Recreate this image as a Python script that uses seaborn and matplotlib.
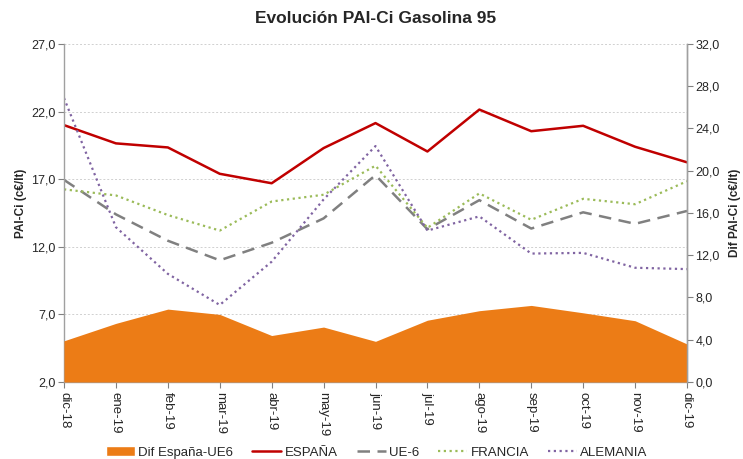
import pandas as pd
import matplotlib
matplotlib.use("Agg")
import matplotlib.pyplot as plt
import matplotlib.ticker as mticker
from matplotlib.patches import Patch
import seaborn as sns

# Data
meses = ["dic-18", "ene-19", "feb-19", "mar-19", "abr-19", "may-19", "jun-19",
         "jul-19", "ago-19", "sep-19", "oct-19", "nov-19", "dic-19"]
espana = [21.0, 19.65, 19.35, 17.4, 16.7, 19.3, 21.15, 19.05, 22.15, 20.55, 20.95, 19.4, 18.25]
ue6 = [16.95, 14.4, 12.45, 11.0, 12.3, 14.1, 17.3, 13.3, 15.45, 13.35, 14.55, 13.7, 14.65]
francia = [16.25, 15.8, 14.35, 13.2, 15.35, 15.85, 18.0, 13.4, 15.95, 14.0, 15.55, 15.15, 16.85]
alemania = [23.0, 13.45, 10.0, 7.7, 10.9, 15.5, 19.45, 13.2, 14.25, 11.5, 11.55, 10.45, 10.35]
dif = [3.9, 5.55, 6.9, 6.4, 4.4, 5.2, 3.85, 5.85, 6.75, 7.25, 6.55, 5.8, 3.6]

df = pd.DataFrame({"mes": meses, "ESPAÑA": espana, "UE-6": ue6,
                   "FRANCIA": francia, "ALEMANIA": alemania, "dif": dif})
df["x"] = range(len(meses))

sns.set_style("white")
plt.rcParams["font.family"] = ["Liberation Sans", "DejaVu Sans"]

fig = plt.figure(figsize=(7.43, 4.59), dpi=100)
ax = fig.add_axes([64 / 743, 1 - 382 / 459, 623 / 743, 338 / 459])
ax2 = ax.twinx()

# lines on the left axis
estilos = {
    "ESPAÑA": dict(color="#C00000", lw=1.8, ls="-"),
    "UE-6": dict(color="#808080", lw=1.8, ls=(0, (5, 3))),
    "FRANCIA": dict(color="#9BBB59", lw=1.6, ls=(0, (1, 1.6))),
    "ALEMANIA": dict(color="#8064A2", lw=1.6, ls=(0, (1, 1.6))),
}
for serie, st in estilos.items():
    sns.lineplot(data=df, x="x", y=serie, ax=ax, color=st["color"],
                 linewidth=st["lw"], linestyle=st["ls"], label=serie, legend=False)

# area on the right axis
ax2.fill_between(df["x"], 0, df["dif"], color="#EC7C16", lw=0)

ax.set_xlim(0, len(meses) - 1)
ax.set_ylim(2, 27)
ax.set_yticks([2, 7, 12, 17, 22, 27])
ax2.set_ylim(0, 32)
ax2.set_yticks(range(0, 33, 4))

fmt = mticker.FuncFormatter(lambda v, p: f"{v:.1f}".replace(".", ","))
ax.yaxis.set_major_formatter(fmt)
ax2.yaxis.set_major_formatter(fmt)

ax.set_xticks(df["x"])
ax.set_xticklabels(meses, rotation=270, fontsize=9.5)
ax.tick_params(axis="y", labelsize=9, length=4, color="#808080", direction="out", left=True, pad=2)
ax.tick_params(axis="x", length=4, color="#808080", direction="out", bottom=True, pad=3)
ax2.tick_params(axis="y", labelsize=9, length=4, color="#808080", direction="out", right=True, pad=2)

ax.grid(axis="y", color="#D0D0D0", linestyle=(0, (2, 2)), linewidth=0.7)
ax.set_axisbelow(True)

for a in (ax, ax2):
    a.spines["top"].set_visible(False)
    for s in ("left", "right", "bottom"):
        a.spines[s].set_color("#A0A0A0")
        a.spines[s].set_linewidth(1.0)
ax2.spines["left"].set_visible(False)
ax2.spines["bottom"].set_visible(False)

ax.set_xlabel("")
ax.set_ylabel("PAI-Ci (c€/lt)", fontsize=8.5, fontweight="bold")
ax.yaxis.set_label_coords(-0.059, 0.53)
ax2.set_ylabel("Dif PAI-Ci (c€/lt)", fontsize=8.5, fontweight="bold", labelpad=7)

fig.suptitle("Evolución PAI-Ci Gasolina 95", x=0.505, y=0.975, fontsize=12.5, fontweight="bold")

handles = [Patch(facecolor="#EC7C16", label="Dif España-UE6")]
handles += ax.get_lines()[:4]
fig.legend(handles=handles, labels=["Dif España-UE6", "ESPAÑA", "UE-6", "FRANCIA", "ALEMANIA"],
           loc="center", bbox_to_anchor=(0.507, 0.014), ncol=5, frameon=False, fontsize=9.5,
           handlelength=2.2, handletextpad=0.25, columnspacing=1.45)

fig.savefig("out.png", dpi=100)
